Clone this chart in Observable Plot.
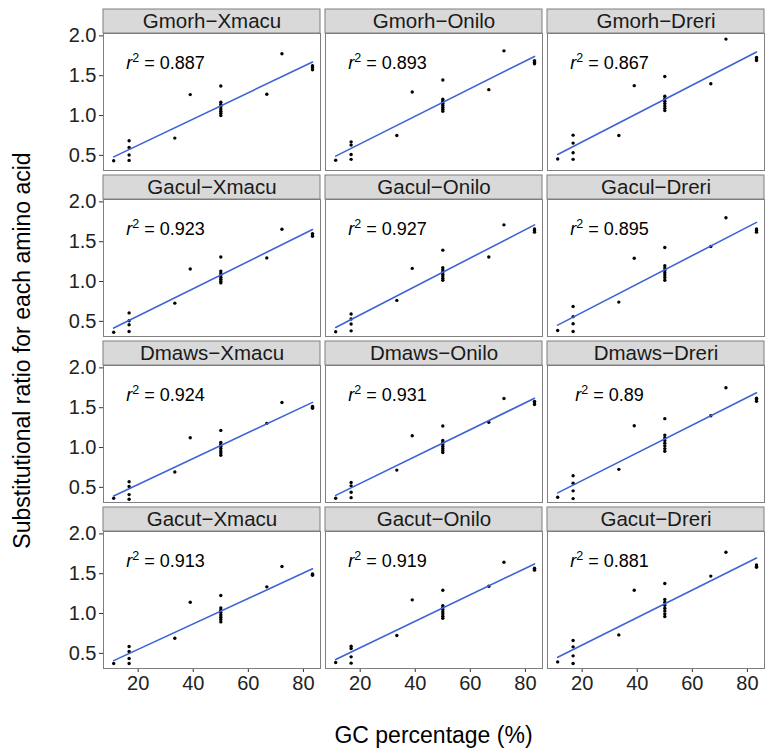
<!DOCTYPE html>
<html><head><meta charset="utf-8">
<script src="https://cdn.jsdelivr.net/npm/d3@7"></script>
<script src="https://cdn.jsdelivr.net/npm/@observablehq/plot@0.6"></script>
<style>body{margin:0;background:#fff}</style>
</head><body><div id="chart"></div>
<script>
// ---- data ----
const rowSpecies = ["Gmorh", "Gacul", "Dmaws", "Gacut"];
const colSpecies = ["Xmacu", "Onilo", "Dreri"];
const aminoAcids = ["Ile","Phe","Tyr","Asn","Lys","Met","Leu","Val","Ser","Thr","His","Gln","Asp","Glu","Cys","Trp","Arg","Pro","Ala","Gly"];
const gcPercent = [11.1, 16.7, 16.7, 16.7, 16.7, 33.3, 38.9, 50, 50, 50, 50, 50, 50, 50, 50, 66.7, 72.2, 83.3, 83.3, 83.3];

const ratioGmorhXmacu = [0.433, 0.683, 0.600, 0.504, 0.437, 0.717, 1.263, 1.371, 1.167, 1.138, 1.113, 1.083, 1.054, 1.029, 1.000, 1.267, 1.775, 1.625, 1.604, 1.575];
const ratioGmorhOnilo = [0.438, 0.670, 0.630, 0.510, 0.450, 0.750, 1.296, 1.446, 1.204, 1.179, 1.154, 1.129, 1.104, 1.079, 1.054, 1.325, 1.812, 1.690, 1.670, 1.650];
const ratioGmorhDreri = [0.454, 0.754, 0.654, 0.533, 0.450, 0.750, 1.375, 1.490, 1.242, 1.210, 1.180, 1.150, 1.120, 1.090, 1.062, 1.400, 1.960, 1.730, 1.710, 1.690];
const ratioGaculXmacu = [0.364, 0.606, 0.508, 0.458, 0.373, 0.729, 1.157, 1.309, 1.131, 1.106, 1.081, 1.055, 1.030, 1.004, 0.983, 1.297, 1.657, 1.602, 1.585, 1.568];
const ratioGaculOnilo = [0.369, 0.593, 0.530, 0.466, 0.381, 0.763, 1.165, 1.394, 1.174, 1.144, 1.119, 1.093, 1.068, 1.042, 1.017, 1.309, 1.712, 1.660, 1.640, 1.620];
const ratioGaculDreri = [0.386, 0.686, 0.559, 0.470, 0.373, 0.742, 1.292, 1.428, 1.199, 1.169, 1.140, 1.110, 1.081, 1.051, 1.017, 1.440, 1.800, 1.660, 1.640, 1.620];
const ratioDmawsXmacu = [0.363, 0.570, 0.511, 0.409, 0.350, 0.692, 1.122, 1.215, 1.063, 1.038, 1.013, 0.987, 0.958, 0.932, 0.903, 1.304, 1.565, 1.515, 1.506, 1.494];
const ratioDmawsOnilo = [0.363, 0.561, 0.519, 0.439, 0.371, 0.717, 1.148, 1.270, 1.089, 1.063, 1.038, 1.013, 0.987, 0.962, 0.937, 1.316, 1.616, 1.580, 1.560, 1.540];
const ratioDmawsDreri = [0.376, 0.646, 0.553, 0.456, 0.359, 0.726, 1.274, 1.363, 1.156, 1.122, 1.089, 1.055, 1.021, 0.987, 0.954, 1.400, 1.750, 1.620, 1.600, 1.580];
const ratioGacutXmacu = [0.372, 0.586, 0.523, 0.435, 0.372, 0.690, 1.142, 1.226, 1.071, 1.042, 1.013, 0.983, 0.954, 0.925, 0.895, 1.335, 1.590, 1.498, 1.490, 1.481];
const ratioGacutOnilo = [0.385, 0.590, 0.561, 0.456, 0.377, 0.724, 1.172, 1.293, 1.100, 1.075, 1.050, 1.021, 0.996, 0.967, 0.941, 1.343, 1.644, 1.570, 1.560, 1.545];
const ratioGacutDreri = [0.393, 0.661, 0.582, 0.469, 0.372, 0.732, 1.293, 1.377, 1.176, 1.142, 1.105, 1.067, 1.033, 0.996, 0.962, 1.470, 1.770, 1.610, 1.590, 1.580];

const r2Gmorh = ["0.887", "0.893", "0.867"];
const r2Gacul = ["0.923", "0.927", "0.895"];
const r2Dmaws = ["0.924", "0.931", "0.89"];
const r2Gacut = ["0.913", "0.919", "0.881"];

const xTicks = [20, 40, 60, 80];
const yTicks = [0.5, 1.0, 1.5, 2.0];
const xTitle = "GC percentage (%)";
const yTitle = "Substitutional ratio for each amino acid";

// ---- tables built from the arrays ----
const ratioTable = {
  Gmorh: {Xmacu: ratioGmorhXmacu, Onilo: ratioGmorhOnilo, Dreri: ratioGmorhDreri},
  Gacul: {Xmacu: ratioGaculXmacu, Onilo: ratioGaculOnilo, Dreri: ratioGaculDreri},
  Dmaws: {Xmacu: ratioDmawsXmacu, Onilo: ratioDmawsOnilo, Dreri: ratioDmawsDreri},
  Gacut: {Xmacu: ratioGacutXmacu, Onilo: ratioGacutOnilo, Dreri: ratioGacutDreri}
};
const r2Table = {Gmorh: r2Gmorh, Gacul: r2Gacul, Dmaws: r2Dmaws, Gacut: r2Gacut};

const points = [];
const panels = [];
for (const row of rowSpecies) {
  colSpecies.forEach((col, j) => {
    panels.push({row, col, name: row + "\u2212" + col, r2: r2Table[row][j]});
    ratioTable[row][col].forEach((v, i) => points.push({row, col, aa: aminoAcids[i], gc: gcPercent[i], ratio: v}));
  });
}

// ---- layout / style ----
const W = 765, H = 752;
const mL = 103, mR = 1, mT = 33, mB = 84;
const STRIP_H = 24;
const borderColor = "#7f7f7f";
const font = "'Liberation Sans', Arial, Helvetica, sans-serif";

const stripBox = Plot.frame({
  render(index, scales, values, dims) {
    const {marginLeft, marginRight, marginTop, width} = dims;
    return d3.create("svg:rect")
      .attr("x", marginLeft).attr("y", marginTop - STRIP_H)
      .attr("width", width - marginLeft - marginRight).attr("height", STRIP_H)
      .attr("fill", "#d9d9d9").attr("stroke", borderColor).attr("stroke-width", 1)
      .node();
  }
});

const chart = Plot.plot({
  width: W, height: H,
  marginLeft: mL, marginRight: mR, marginTop: mT, marginBottom: mB,
  style: {fontFamily: font, background: "#fff", color: "#1a1a1a"},
  x: {domain: [7.4, 86.2], label: null},
  y: {domain: [0.31, 2.03], label: null},
  fx: {domain: colSpecies, paddingInner: 5 / 222, paddingOuter: 0, axis: null, label: null},
  fy: {domain: rowSpecies, paddingInner: 29 / 166, paddingOuter: 0, axis: null, label: null},
  marks: [
    stripBox,
    Plot.text(panels, {fx: "col", fy: "row", text: "name", frameAnchor: "top", lineAnchor: "middle", dy: -STRIP_H / 2, fontSize: 20.5, fill: "#1a1a1a"}),
    Plot.dot(points, {x: "gc", y: "ratio", fx: "col", fy: "row", r: 1.7, fill: "#000", stroke: "none"}),
    Plot.linearRegressionY(points, {x: "gc", y: "ratio", fx: "col", fy: "row", stroke: "#3d63d6", strokeWidth: 1.6, ci: 0}),
    Plot.text(panels, {
      fx: "col", fy: "row", text: "r2", frameAnchor: "top-left", lineAnchor: "middle", dx: 62, dy: 30,
      textAnchor: "middle", fontSize: 18, fill: "#000",
      render(index, scales, values, dims, ctx, next) {
        const g = next(index, scales, values, dims, ctx);
        d3.select(g).selectAll("text").each(function () {
          const t = d3.select(this);
          const v = t.text();
          t.text(null);
          t.append("tspan").attr("font-style", "italic").text("r");
          t.append("tspan").attr("font-size", "12.5").attr("dy", "-7").text("2");
          t.append("tspan").attr("dy", "7").text(" = " + v);
        });
        return g;
      }
    }),
    Plot.axisY({ticks: yTicks, tickFormat: d3.format(".1f"), tickSize: 4, tickPadding: 3, fontSize: 20, stroke: "#333", fill: "#222", label: null}),
    Plot.axisX({ticks: xTicks, tickFormat: d3.format("d"), tickSize: 4, tickPadding: 3, fontSize: 20, stroke: "#333", fill: "#222", label: null}),
    Plot.frame({stroke: borderColor, strokeWidth: 1})
  ]
});

const svg = d3.select(chart);
svg.append("text")
  .attr("x", mL + (W - mL - mR) / 2).attr("y", 735)
  .attr("text-anchor", "middle").attr("dominant-baseline", "central")
  .attr("font-size", 23).attr("fill", "#000").attr("font-family", font)
  .text(xTitle);
svg.append("text")
  .attr("transform", `translate(22,${mT + (H - mT - mB) / 2}) rotate(-90)`)
  .attr("text-anchor", "middle").attr("dominant-baseline", "central")
  .attr("font-size", 23).attr("fill", "#000").attr("font-family", font)
  .text(yTitle);

document.getElementById("chart").appendChild(chart);
</script>
</body></html>
